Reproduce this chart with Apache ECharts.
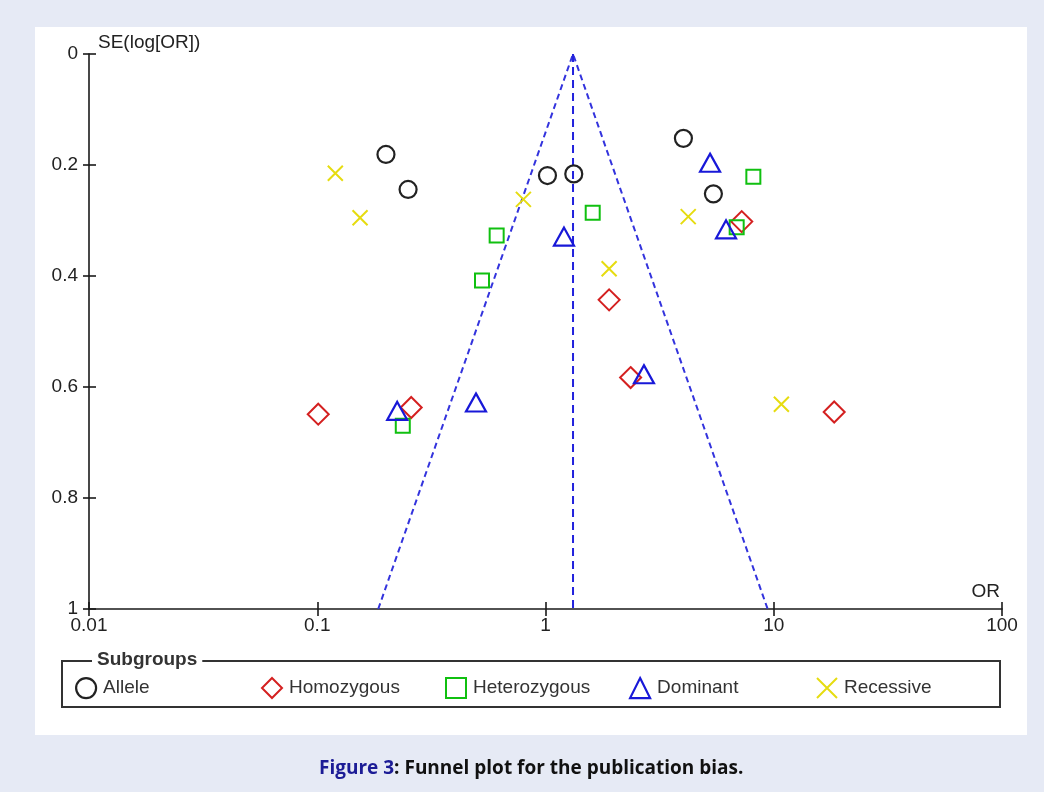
<!DOCTYPE html>
<html><head><meta charset="utf-8">
<script src="https://cdn.jsdelivr.net/npm/echarts@6/dist/echarts.min.js"></script>
<style>
html,body{margin:0;padding:0;background:#e6eaf5;}
#panel{position:absolute;left:35px;top:27px;width:992px;height:708px;background:#fff;}
#chart{position:absolute;left:0;top:0;width:1044px;height:792px;}
</style></head><body>
<div id="panel"></div>
<div id="chart"></div>
<script>
// ---- data ----
const xTicks = [0.01, 0.1, 1, 10, 100];
const yTicks = [0, 0.2, 0.4, 0.6, 0.8, 1];

const alleleOR = [0.20, 0.25, 1.02, 1.33, 4.02, 5.44];
const alleleSE = [0.181, 0.244, 0.219, 0.216, 0.152, 0.252];

const homoOR = [0.101, 0.258, 1.90, 2.36, 7.24, 18.4];
const homoSE = [0.649, 0.637, 0.443, 0.583, 0.302, 0.645];

const hetOR = [0.611, 0.527, 1.61, 8.14, 6.88, 0.237];
const hetSE = [0.327, 0.408, 0.286, 0.221, 0.312, 0.670];

const domOR = [1.205, 5.26, 6.18, 0.224, 0.496, 2.70];
const domSE = [0.329, 0.196, 0.316, 0.643, 0.628, 0.577];

const recOR = [0.120, 0.154, 0.80, 1.90, 4.22, 10.8];
const recSE = [0.215, 0.295, 0.262, 0.387, 0.293, 0.631];

const funnelOR = [0.185, 1.32, 9.4];
const funnelSE = [1, 0, 1];
const centerOR = [1.32, 1.32];
const centerSE = [0, 1];

// ---- chart ----
const pairs = (xs, ys) => xs.map((x, i) => [x, ys[i]]);
const FONT = 'Liberation Sans';
const hollow = (c, w) => ({ color: 'rgba(0,0,0,0)', borderColor: c, borderWidth: w || 2, opacity: 1 });

const groups = [
  { name: 'Allele', or: alleleOR, se: alleleSE, symbol: 'circle', size: 17, color: '#222222', w: 2.2, left: 70 },
  { name: 'Homozygous', or: homoOR, se: homoSE, symbol: 'diamond', size: 21, color: '#d42020', w: 2, left: 256 },
  { name: 'Heterozygous', or: hetOR, se: hetSE, symbol: 'rect', size: 14, color: '#10c010', w: 2, left: 440 },
  { name: 'Dominant', or: domOR, se: domSE, symbol: 'triangle', size: [20, 18], color: '#1818d8', w: 2.2, left: 624 },
  { name: 'Recessive', or: recOR, se: recSE, symbol: 'path://M0,0L10,10M10,0L0,10', size: 15, color: '#e6dc10', w: 2, left: 811 }
];

const axisLineStyle = { color: '#1a1a1a', width: 1.6 };
const fmtX = v => String(Number(v.toPrecision(3)));

const xBase = {
  type: 'log', logBase: 10, min: 0.01, max: 100, position: 'bottom', offset: 0,
  splitLine: { show: false }, minorTick: { show: false }
};
const yBase = {
  type: 'value', inverse: true, min: 0, max: 1, interval: 0.2, position: 'left', offset: 0,
  splitLine: { show: false }
};

const chart = echarts.init(document.getElementById('chart'));
chart.setOption({
  backgroundColor: 'transparent',
  animation: false,
  grid: { left: 89, right: 42, top: 54, bottom: 183 },
  xAxis: [
    Object.assign({}, xBase, {
      axisLine: { show: true, onZero: false, lineStyle: axisLineStyle },
      axisTick: { show: true, length: 7, lineStyle: axisLineStyle },
      axisLabel: { formatter: fmtX, color: '#222', fontFamily: FONT, fontSize: 19, margin: 7 }
    }),
    Object.assign({}, xBase, {
      axisLine: { show: false, onZero: false },
      axisTick: { show: true, inside: true, length: 7, lineStyle: axisLineStyle },
      axisLabel: { show: false }
    })
  ],
  yAxis: [
    Object.assign({}, yBase, {
      axisLine: { show: true, onZero: false, lineStyle: axisLineStyle },
      axisTick: { show: true, length: 6, lineStyle: axisLineStyle },
      axisLabel: { formatter: v => yTicks.includes(v) ? String(v) : '', color: '#222', fontFamily: FONT, fontSize: 19, margin: 11 }
    }),
    Object.assign({}, yBase, {
      axisLine: { show: false, onZero: false },
      axisTick: { show: true, inside: true, length: 7, lineStyle: axisLineStyle },
      axisLabel: { show: false }
    })
  ],
  legend: groups.map(g => ({
    data: [g.name], left: g.left, top: 672, itemWidth: 20, itemHeight: 20, itemGap: 0,
    textStyle: { color: '#333', fontFamily: FONT, fontSize: 19, padding: [0, 0, 0, 2] },
    itemStyle: hollow(g.color, g.w), selectedMode: false
  })),
  series: [
    {
      type: 'line', name: 'funnel', data: pairs(funnelOR, funnelSE), symbol: 'none', silent: true,
      lineStyle: { color: '#3333dd', width: 2, type: [6, 4] }, z: 1
    },
    {
      type: 'line', name: 'pooled', data: pairs(centerOR, centerSE), symbol: 'none', silent: true,
      lineStyle: { color: '#2222dd', width: 2, type: [8, 5] }, z: 1
    }
  ].concat(groups.map(g => ({
    type: 'scatter', name: g.name, data: pairs(g.or, g.se),
    symbol: g.symbol, symbolSize: g.size,
    itemStyle: hollow(g.color, g.w), z: 3
  }))),
  graphic: [
    { type: 'text', left: 98, top: 33, style: { text: 'SE(log[OR])', fill: '#222', font: '19px "Liberation Sans"' } },
    { type: 'text', right: 44, top: 582, style: { text: 'OR', fill: '#222', font: '19px "Liberation Sans"' } },
    { type: 'rect', shape: { x: 62, y: 661, width: 938, height: 46 }, style: { fill: 'rgba(0,0,0,0)', stroke: '#333', lineWidth: 2 }, z: 1 },
    { type: 'text', left: 92, top: 650, z: 5, style: { text: 'Subgroups', fill: '#333', font: 'bold 19px "Liberation Sans"', backgroundColor: '#fff', padding: [0, 5, 0, 5] } },
    { type: 'text', left: 319, top: 759, style: {
        text: '{b|Figure 3}: Funnel plot for the publication bias.',
        fill: '#111', font: 'bold 19px "Open Sans"',
        rich: { b: { fill: '#1c1c96', font: 'bold 19px "Open Sans"' } }
      } }
  ]
});
</script>
</body></html>
